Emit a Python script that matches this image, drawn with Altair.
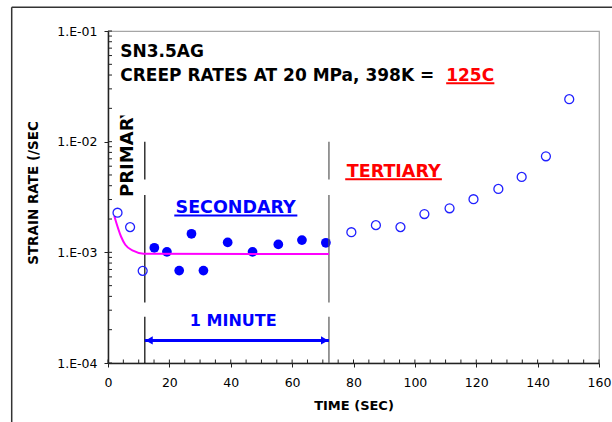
import altair as alt
import pandas as pd

# ---------------- data ----------------
open_t = [3.1, 7.2, 11.3, 79.3, 87.3, 95.3, 103.1, 111.3, 119.1, 127.2, 134.8, 142.7, 150.3]
open_rate = [2.28e-3, 1.69e-3, 6.8e-4, 1.52e-3, 1.76e-3, 1.69e-3, 2.22e-3, 2.50e-3,
             3.02e-3, 3.74e-3, 4.80e-3, 7.38e-3, 2.42e-2]
filled_t = [15.1, 19.2, 23.2, 27.2, 31.1, 39.0, 47.1, 55.5, 63.2, 71.0]
filled_rate = [1.10e-3, 1.01e-3, 6.84e-4, 1.47e-3, 6.84e-4, 1.23e-3, 1.01e-3, 1.18e-3, 1.29e-3, 1.22e-3]
fit_t = [2.05, 4.24, 5.64, 8.34, 11.6, 72.0]
fit_rate = [2.13e-3, 1.39e-3, 1.17e-3, 1.03e-3, 9.7e-4, 9.67e-4]

x_ticks = [0, 20, 40, 60, 80, 100, 120, 140, 160]
y_ticks = [1e-4, 1e-3, 1e-2, 1e-1]
x_minor = [0, 5, 10, 15, 20, 25, 30, 35, 40, 45, 50, 55, 60, 65, 70, 75, 80, 85, 90, 95,
           100, 105, 110, 115, 120, 125, 130, 135, 140, 145, 150, 155, 160]
y_minor = [1e-4, 2e-4, 3e-4, 4e-4, 5e-4, 6e-4, 7e-4, 8e-4, 9e-4,
           1e-3, 2e-3, 3e-3, 4e-3, 5e-3, 6e-3, 7e-3, 8e-3, 9e-3,
           1e-2, 2e-2, 3e-2, 4e-2, 5e-2, 6e-2, 7e-2, 8e-2, 9e-2, 1e-1]

# phase boundary lines (broken vertical lines)
bound_t = [12, 12, 12, 72, 72, 72]
bound_top = [1.0e-2, 3.30e-3, 2.62e-4, 1.0e-2, 3.30e-3, 2.62e-4]
bound_bot = [4.54e-3, 3.52e-4, 1.0e-4, 4.54e-3, 3.52e-4, 1.0e-4]
bound_col = ["#000000", "#000000", "#000000", "#555555", "#555555", "#555555"]

# annotation positions (data units)
title_text = ["SN3.5AG", "CREEP RATES AT 20 MPa, 398K = "]
title_t = [4.0, 4.0]
title_rate = [0.0580, 0.0355]
hot_text = ["125C"]
hot_t = [110.2]
hot_rate = [0.0355]

phase_text = ["SECONDARY", "TERTIARY", "1 MINUTE"]
phase_t = [41.6, 93.1, 40.8]
phase_rate = [2.255e-3, 4.77e-3, 2.16e-4]
phase_col = ["#0000ff", "#ff0000", "#0000ff"]
phase_size = [17.5, 17.5, 16]

primary_text = ["PRIMARY"]
primary_t = [6.6]
primary_rate = [3.165e-3]

ul_t1 = [110.2, 21.6, 77.3]
ul_t2 = [125.9, 61.7, 108.8]
ul_rate = [0.0337, 2.154e-3, 4.574e-3]
ul_col = ["#ff0000", "#0000ff", "#ff0000"]

arrow_t1 = [12.0]
arrow_t2 = [72.0]
arrow_rate = [1.60e-4]
head_t = [13.4, 70.6]
head_rate = [1.60e-4, 1.60e-4]
head_shape = ["triangle-left", "triangle-right"]

# ---------------- chart ----------------
W, H = 491, 332
x_scale = alt.Scale(domain=[0, 160], nice=False, zero=False)
y_scale = alt.Scale(type="log", domain=[1e-4, 1e-1], nice=False)
FONT = "DejaVu Sans"

x_axis = alt.Axis(values=x_ticks, title="TIME (SEC)", format="d", tickSize=4,
                  labelPadding=9, titlePadding=11, titleFontSize=13,
                  titleFontWeight="bold", labelFlush=False, labelOverlap=False, grid=False)
y_axis = alt.Axis(values=y_ticks, labelExpr="'1.E-0' + round(-log(datum.value)/LN10)",
                  tickSize=4, labelPadding=7, title="STRAIN RATE (/SEC",
                  titleAngle=270, titleX=-75, titleY=161.5, titleAlign="center",
                  titleBaseline="middle", titleFontSize=13.5, titleFontWeight="bold",
                  labelFlush=False, labelOverlap=False, grid=False)


def X(field="t"):
    return alt.X(f"{field}:Q", scale=x_scale, axis=x_axis)


def Y(field="rate"):
    return alt.Y(f"{field}:Q", scale=y_scale, axis=y_axis)


filled_df = pd.DataFrame({"t": filled_t, "rate": filled_rate})
open_df = pd.DataFrame({"t": open_t, "rate": open_rate})
fit_df = pd.DataFrame({"t": fit_t, "rate": fit_rate})

filled_layer = alt.Chart(filled_df).mark_circle(size=95, color="#0000ff", opacity=1).encode(
    x=X(), y=Y())

open_layer = alt.Chart(open_df).mark_point(shape="circle", filled=False, size=80,
                                           color="#2020ff", strokeWidth=1.3, opacity=1).encode(
    x=X(), y=Y())

fit_layer = alt.Chart(fit_df).mark_line(color="#ff00ff", strokeWidth=2,
                                        interpolate="monotone").encode(x=X(), y=Y())

bound_df = pd.DataFrame({"t": bound_t, "top": bound_top, "bot": bound_bot, "col": bound_col})
bound_layer = alt.Chart(bound_df).mark_rule(strokeWidth=1.2).encode(
    x=X(), y=Y("top"), y2="bot:Q", color=alt.Color("col:N", scale=None))

xminor_layer = alt.Chart(pd.DataFrame({"t": x_minor})).mark_rule(color="#222", strokeWidth=1).encode(
    x=X(), y=alt.value(H), y2=alt.value(H - 3.5))
yminor_layer = alt.Chart(pd.DataFrame({"rate": y_minor})).mark_rule(color="#222", strokeWidth=1).encode(
    y=Y(), x=alt.value(0), x2=alt.value(4))

title_df = pd.DataFrame({"label": title_text, "t": title_t, "rate": title_rate})
title_layer = alt.Chart(title_df).mark_text(font=FONT, fontWeight="bold", fontSize=17,
                                            align="left", baseline="alphabetic",
                                            color="#000000").encode(
    x=X(), y=Y(), text="label:N")
hot_df = pd.DataFrame({"label": hot_text, "t": hot_t, "rate": hot_rate})
hot_layer = alt.Chart(hot_df).mark_text(font=FONT, fontWeight="bold", fontSize=17,
                                        align="left", baseline="alphabetic",
                                        color="#ff0000").encode(
    x=X(), y=Y(), text="label:N")

phase_df = pd.DataFrame({"label": phase_text, "t": phase_t, "rate": phase_rate,
                         "col": phase_col, "fs": phase_size})
phase_layer = alt.Chart(phase_df).mark_text(font=FONT, fontWeight="bold", align="center",
                                            baseline="alphabetic").encode(
    x=X(), y=Y(), text="label:N",
    color=alt.Color("col:N", scale=None), size=alt.Size("fs:Q", scale=None))

primary_df = pd.DataFrame({"label": primary_text, "t": primary_t, "rate": primary_rate})
primary_layer = alt.Chart(primary_df).mark_text(font=FONT, fontWeight="bold", fontSize=18,
                                                angle=270, align="left", baseline="middle",
                                                color="#000000").encode(
    x=X(), y=Y(), text="label:N")
# the reference's PRIMARY label is cut off at its top
mask_layer = alt.Chart(pd.DataFrame({"k": [0]})).mark_rect(color="white").encode(
    x=alt.value(4), x2=alt.value(34), y=alt.value(52), y2=alt.value(84.5))

ul_df = pd.DataFrame({"t1": ul_t1, "t2": ul_t2, "rate": ul_rate, "col": ul_col})
ul_layer = alt.Chart(ul_df).mark_rule(strokeWidth=2).encode(
    x=X("t1"), x2="t2:Q", y=Y(), color=alt.Color("col:N", scale=None))

arrow_df = pd.DataFrame({"t1": arrow_t1, "t2": arrow_t2, "rate": arrow_rate})
arrow_layer = alt.Chart(arrow_df).mark_rule(strokeWidth=3, color="#0000ff").encode(
    x=X("t1"), x2="t2:Q", y=Y())
head_df = pd.DataFrame({"t": head_t, "rate": head_rate, "shape": head_shape})
head_layer = alt.Chart(head_df).mark_point(filled=True, size=70, color="#0000ff", opacity=1).encode(
    x=X(), y=Y(), shape=alt.Shape("shape:N", scale=None))

# outer frame of the original picture (left and top edges)
frame_left = alt.Chart(pd.DataFrame({"k": [0]})).mark_rule(color="#333", strokeWidth=1.5).encode(
    x=alt.value(-96.3), y=alt.value(-23.7), y2=alt.value(400))
frame_top = alt.Chart(pd.DataFrame({"k": [0]})).mark_rule(color="#333", strokeWidth=1.5).encode(
    x=alt.value(-96.3), x2=alt.value(520), y=alt.value(-23.7))

chart = alt.layer(
    filled_layer,
    frame_left, frame_top,
    xminor_layer, yminor_layer,
    bound_layer, fit_layer, open_layer,
    arrow_layer, head_layer,
    title_layer, hot_layer, phase_layer, primary_layer, mask_layer, ul_layer,
).properties(
    width=W, height=H,
    padding={"left": 108, "top": 31, "right": 13, "bottom": 59},
    autosize="none",
    background="white",
).configure_view(
    stroke="#a6a6a6", strokeWidth=1.2
).configure_axis(
    labelFont=FONT, titleFont=FONT, labelFontSize=12.5, labelColor="#000000",
    titleColor="#000000", domainColor="#222222", domainWidth=1.5,
    tickColor="#222222", tickWidth=1,
)

chart.save("out.html", embed_options={"renderer": "svg", "actions": False})
